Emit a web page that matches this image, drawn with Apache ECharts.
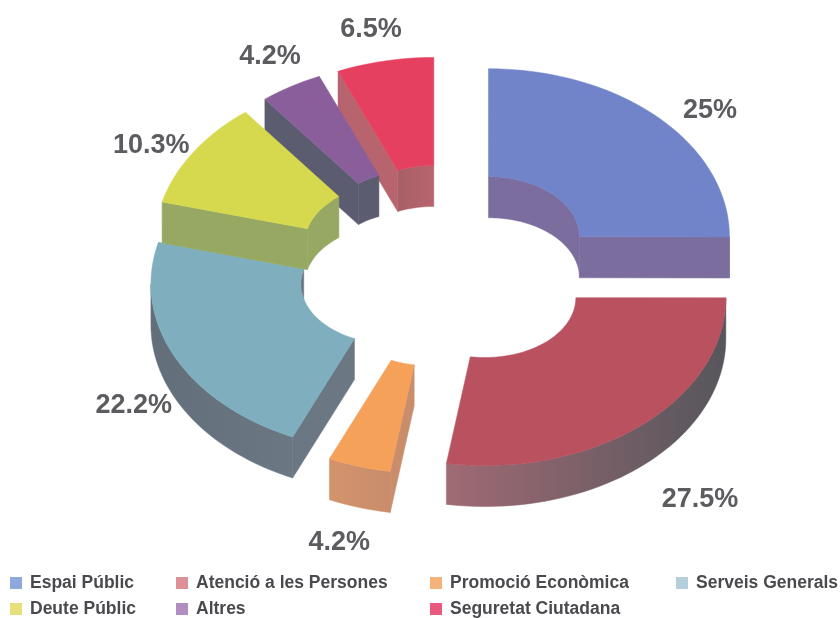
<!DOCTYPE html>
<html>
<head>
    <meta charset="UTF-8">
    <title>Pressupost per àrees</title>
    <script src="https://cdn.jsdelivr.net/npm/echarts@6/dist/echarts.min.js"></script>
    <style>
        html, body { margin: 0; padding: 0; background: #fff; }
    </style>
</head>
<body>
<div id="main" style="width: 840px; height: 618px;"></div>
<script>
    // valors llegits del gràfic
    var categories = ['Espai Públic', 'Atenció a les Persones', 'Promoció Econòmica', 'Serveis Generals', 'Deute Públic', 'Altres', 'Seguretat Ciutadana'];
    var values = [25, 27.5, 4.2, 22.2, 10.3, 4.2, 6.5];
    var valueLabels = ['25%', '27.5%', '4.2%', '22.2%', '10.3%', '4.2%', '6.5%'];

    // colors: cara superior, paret (esquerra, dreta), llegenda
    var topColors = ['#7183c9', '#b9515f', '#f5a15a', '#7fafbe', '#d6d94e', '#8a5e9b', '#e5405f'];
    var wallLeft = ['#7c6d9f', '#a06a74', '#d3936c', '#626e79', '#96a862', '#5c5c70', '#a85f66'];
    var wallRight = ['#7c6d9f', '#56565c', '#c98d6c', '#6b7783', '#96a862', '#5c5c70', '#b8646e'];
    var legendColors = ['#8fa8dc', '#dd9097', '#f5b27a', '#b4cedb', '#e6e07a', '#b08fc0', '#e85a7d'];

    // geometria del donut
    var baseX = 446, baseY = 266;
    var rxOuter = 241, ryOuter = 168, rxInner = 91, ryInner = 60;
    var depth = 41, explode = 60, tilt = 0.69;
    var labelNudge = [[51, -8], [59, 74], [-20, 76], [-41, 49], [-42, -7], [-21, -30], [-14, -31]];
    var drawOrder = [3, 6, 5, 4, 7, 2, 1]; // z: les de darrere primer

    var total = values.reduce(function (a, b) { return a + b; }, 0);
    var startAngles = [];
    var sum = 0;
    for (var i = 0; i < values.length; i++) {
        startAngles.push(sum / total * 360);
        sum += values[i];
    }

    function arcPoints(cx, cy, rx, ry, from, to, dy) {
        var pts = [];
        var steps = Math.max(2, Math.ceil(Math.abs(to - from) / 2));
        for (var s = 0; s <= steps; s++) {
            var a = (from + (to - from) * s / steps) * Math.PI / 180;
            pts.push([cx + rx * Math.sin(a), cy - ry * Math.cos(a) + (dy || 0)]);
        }
        return pts;
    }

    function poly(points, fill) {
        return {
            type: 'polygon',
            shape: { points: points },
            style: { fill: fill, stroke: fill, lineWidth: 0.5 }
        };
    }

    function wallFill(idx) {
        return new echarts.graphic.LinearGradient(0, 0, 1, 0, [
            { offset: 0, color: wallLeft[idx] },
            { offset: 1, color: wallRight[idx] }
        ]);
    }

    // paret entre dos arcs: l'arc de dalt i el mateix desplaçat cap avall
    function arcWall(cx, cy, rx, ry, from, to, fill) {
        var up = arcPoints(cx, cy, rx, ry, from, to, 0);
        var down = arcPoints(cx, cy, rx, ry, from, to, depth).reverse();
        return poly(up.concat(down), fill);
    }

    function radialWall(cx, cy, a, fill) {
        var rad = a * Math.PI / 180;
        var inner = [cx + rxInner * Math.sin(rad), cy - ryInner * Math.cos(rad)];
        var outer = [cx + rxOuter * Math.sin(rad), cy - ryOuter * Math.cos(rad)];
        return poly([inner, outer, [outer[0], outer[1] + depth], [inner[0], inner[1] + depth]], fill);
    }

    function renderSlice(params, api) {
        var idx = params.seriesIndex;
        var from = startAngles[idx];
        var to = from + api.value(0) / total * 360;
        var mid = (from + to) / 2 * Math.PI / 180;
        var cx = baseX + explode * Math.sin(mid);
        var cy = baseY - explode * tilt * Math.cos(mid);
        var wall = wallFill(idx);
        var children = [];

        // paret interior: només la part del darrere del forat
        if (from < 90) {
            children.push(arcWall(cx, cy, rxInner, ryInner, from, Math.min(to, 90), wall));
        }
        if (to > 270) {
            children.push(arcWall(cx, cy, rxInner, ryInner, Math.max(from, 270), to, wall));
        }
        // parets de tall
        if (Math.sin(from * Math.PI / 180) < -0.001) {
            children.push(radialWall(cx, cy, from, wallRight[idx]));
        }
        if (Math.sin(to * Math.PI / 180) > 0.001) {
            children.push(radialWall(cx, cy, to, wall));
        }
        // paret exterior: només la part de davant
        var wFrom = Math.max(from, 90), wTo = Math.min(to, 270);
        if (wTo > wFrom) {
            children.push(arcWall(cx, cy, rxOuter, ryOuter, wFrom, wTo, wallFill(idx)));
        }
        // cara superior
        var face = arcPoints(cx, cy, rxOuter, ryOuter, from, to, 0)
            .concat(arcPoints(cx, cy, rxInner, ryInner, to, from, 0));
        children.push(poly(face, topColors[idx]));

        children.push({
            type: 'text',
            z2: 10,
            style: {
                x: cx + rxOuter * Math.sin(mid) + labelNudge[idx][0],
                y: cy - ryOuter * Math.cos(mid) + labelNudge[idx][1],
                text: valueLabels[idx],
                align: 'center',
                verticalAlign: 'middle',
                fill: '#5c5c60',
                font: 'bold 27px "Liberation Sans", Arial, sans-serif'
            }
        });
        return { type: 'group', children: children };
    }

    var seriesList = categories.map(function (name, i) {
        return {
            name: name,
            type: 'custom',
            coordinateSystem: 'none',
            z: drawOrder[i],
            silent: true,
            animation: false,
            itemStyle: { color: legendColors[i] },
            renderItem: renderSlice,
            data: [[values[i]]]
        };
    });

    // una llegenda per entrada: les columnes no tenen la mateixa amplada
    function legendItem(name, left, top) {
        return {
            data: [name],
            left: left,
            top: top,
            icon: 'rect',
            itemWidth: 12,
            itemHeight: 12,
            itemGap: 0,
            padding: 0,
            selectedMode: false,
            textStyle: {
                color: '#4a4a4e',
                fontFamily: '"Liberation Sans", Arial, sans-serif',
                fontWeight: 'bold',
                fontSize: 17.5,
                padding: [0, 0, 0, 3]
            }
        };
    }

    var chart = echarts.init(document.getElementById('main'));
    chart.setOption({
        backgroundColor: '#ffffff',
        animation: false,
        legend: [
            legendItem(categories[0], 10, 574),
            legendItem(categories[1], 176, 574),
            legendItem(categories[2], 430, 574),
            legendItem(categories[3], 676, 574),
            legendItem(categories[4], 10, 600),
            legendItem(categories[5], 176, 600),
            legendItem(categories[6], 430, 600)
        ],
        series: seriesList
    });
</script>
</body>
</html>
